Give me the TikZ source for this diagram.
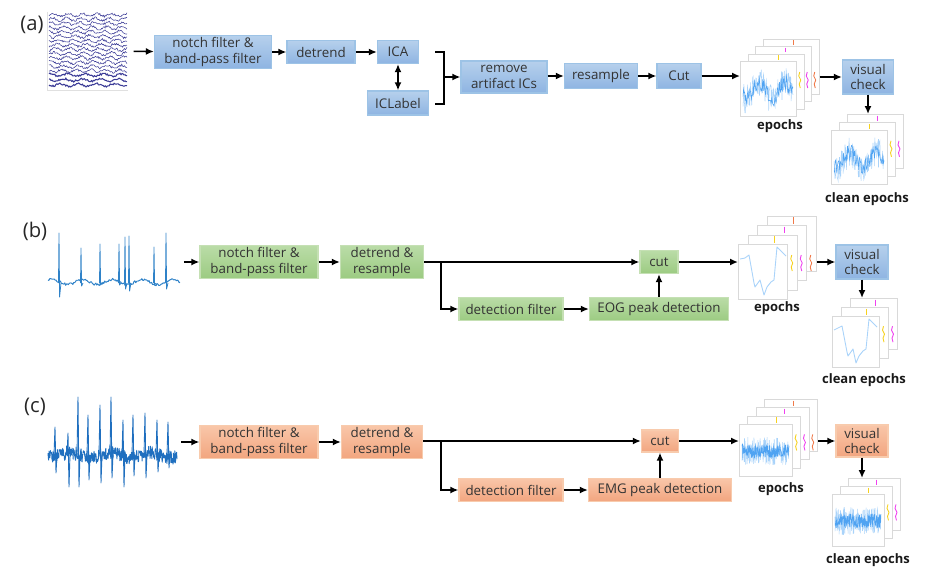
\documentclass[tikz,border=0pt]{standalone}
\usepackage{fontspec}
\setmainfont{Open Sans}
\usetikzlibrary{arrows.meta,positioning}

\definecolor{blueTop}{HTML}{B6D0EC}
\definecolor{blueBot}{HTML}{8EB4E2}
\definecolor{blueEdge}{HTML}{9DC3E6}
\definecolor{greenTop}{HTML}{BADCA7}
\definecolor{greenBot}{HTML}{9CCB82}
\definecolor{greenEdge}{HTML}{C5E0B4}
\definecolor{orangeTop}{HTML}{F9C6A9}
\definecolor{orangeBot}{HTML}{F2A57F}
\definecolor{orangeEdge}{HTML}{F8CBAD}
\definecolor{eegNavy}{HTML}{3A3A96}
\definecolor{eogBlue}{HTML}{2F82C8}
\definecolor{emgBlue}{HTML}{1F6FBF}
\definecolor{epBlue}{HTML}{4FA3F2}
\definecolor{epLight}{HTML}{A9D3FA}
\definecolor{bitYellow}{HTML}{F7D21E}
\definecolor{bitPink}{HTML}{F040F0}
\definecolor{bitOrange}{HTML}{F07A4A}

% stack of epoch frames: name, x, y (front frame top left), width, height, offset, back frames
\newcommand{\epochstack}[7]{%
  \foreach \k in {#7} {%
    \node[frame, anchor=north west, minimum width=#4*0.02cm, minimum height=#5*0.02cm]
      (#1-\k) at ({#2+#6*\k}, {#3-#6*\k}) {};
    \draw[bit\k] ({#2+#4+#6*\k-#6/2}, {#3+#5*0.2}) -- ++(-1,4) -- ++(2,4) -- ++(-1.5,4) -- ++(1,4);
    \draw[bit\k] ({#2+#4*0.55+#6*\k}, {#3-#6*\k+1.5}) -- ++(0,{#6-3});
  }
  \node[frame, anchor=north west, minimum width=#4*0.02cm, minimum height=#5*0.02cm] (#1) at (#2,#3) {};
}

\begin{document}
\begin{tikzpicture}[x=0.02cm, y=-0.02cm,
    box/.style={draw, line width=0.7pt, align=center, inner sep=1pt, text=black!80, font=\fontsize{7.6}{8.8}\selectfont},
    bluebox/.style={box, draw=blueEdge, top color=blueTop, bottom color=blueBot},
    greenbox/.style={box, draw=greenEdge, top color=greenTop, bottom color=greenBot},
    orangebox/.style={box, draw=orangeEdge, top color=orangeTop, bottom color=orangeBot},
    link/.style={-{Latex[length=1.6mm, width=1.4mm]}, line width=0.9pt},
    frame/.style={draw=black!15, fill=white, line width=0.6pt, inner sep=0pt},
    sigbox/.style={inner sep=0pt},
    lbl/.style={font=\bfseries\fontsize{7.4}{8.6}\selectfont, text=black!90},
    tag/.style={font=\fontsize{11.5}{13}\selectfont, text=black!85},
    bit1/.style={draw=bitYellow, line width=0.5pt},
    bit2/.style={draw=bitPink, line width=0.5pt},
    bit3/.style={draw=bitOrange, line width=0.5pt},
    eegline/.style={eegNavy, line width=0.3pt},
    rawsig/.style={line width=0.55pt, line join=round},
    epsig/.style={epBlue, line width=0.3pt}
]
\useasboundingbox (0,0) rectangle (944,575);
\pgfmathsetseed{11}

% (a) EEG
\node[tag] (tagA) at (32,25) {(a)};
\node[sigbox, minimum width=1.6cm, minimum height=1.56cm] (eeg) at (88,51) {};
\draw[black!12, line width=0.6pt] (eeg.north west) |- (eeg.south east);
\foreach \i in {0,...,13}
  \draw[eegline] plot[domain=49:127, samples=90] (\x, {15+4.3*\i + 1.4*sin(\x*25+\i*40) + 1.1*rand});
\foreach \i in {0,1,2}
  \draw[eegline, line width=0.6pt] plot[domain=49:127, samples=80] (\x, {75+5*\i + 1.2*sin(\x*20+\i*70) + 0.9*rand});

\node[bluebox, minimum width=2.34cm, minimum height=0.66cm] (notchA) at (213,52) {notch filter \&\\band-pass filter};
\node[bluebox, minimum width=1.36cm, minimum height=0.46cm] (detrendA) at (321,52) {detrend};
\node[bluebox, minimum width=0.82cm, minimum height=0.46cm] (icaA) at (398,52) {ICA};
\node[bluebox, minimum width=1.22cm, minimum height=0.48cm] (iclabelA) at (398,103) {ICLabel};
\node[bluebox, minimum width=1.72cm, minimum height=0.64cm] (removeA) at (504,77) {remove\\artifact ICs};
\node[bluebox, minimum width=1.46cm, minimum height=0.5cm] (resampleA) at (601,76) {resample};
\node[bluebox, minimum width=0.88cm, minimum height=0.5cm] (cutA) at (679,76) {Cut};
\node[bluebox, minimum width=1.02cm, minimum height=0.68cm] (visualA) at (868,77) {visual\\check};
\coordinate (brTop) at (435,52);
\coordinate (brMid) at (444,77);
\coordinate (brBot) at (435,104);

\epochstack{epA}{740}{61}{56}{55}{7.5}{3,2,1}
\begin{scope}[shift={(epA.north west)}]
  \draw[epLight, line width=0.3pt] plot[domain=3:53, samples=110] (\x, {30 + 8*sin(\x*14) + 15*rand});
  \draw[epsig] plot[domain=3:53, samples=90] (\x, {30 + 8*sin(\x*14) + 8*rand});
\end{scope}
\epochstack{clA}{831}{130}{56}{54}{8}{2,1}
\begin{scope}[shift={(clA.north west)}]
  \draw[epLight, line width=0.3pt] plot[domain=3:53, samples=110] (\x, {30 + 8*sin(\x*14) + 15*rand});
  \draw[epsig] plot[domain=3:53, samples=90] (\x, {30 + 8*sin(\x*14) + 8*rand});
\end{scope}
\node[lbl] (epAlbl) at (780,126) {epochs};
\node[lbl] (clAlbl) at (867,199) {clean epochs};

\draw[link, shorten <=3pt] (eeg) -- (notchA);
\draw[link] (notchA) -- (detrendA);
\draw[link] (detrendA) -- (icaA);
\draw[{Latex[length=1.6mm, width=1.4mm]}-{Latex[length=1.6mm, width=1.4mm]}, line width=0.9pt] (icaA) -- (iclabelA);
\draw[line width=0.9pt] (brTop) -| (brMid) |- (brBot);
\draw[link] (brMid) -- (removeA.west |- brMid);
\draw[link] (removeA.east |- resampleA) -- (resampleA);
\draw[link] (resampleA) -- (cutA);
\draw[link] (cutA.east) -- (cutA.east -| epA.west);
\draw[link] (visualA.west -| epA-3.east) -- (visualA.west);
\draw[link] (visualA.south) -- (visualA.south |- clA-2.north);

% (b) EOG
\node[tag] (tagB) at (35,231) {(b)};
\node[sigbox, minimum width=2.64cm, minimum height=1.32cm] (eog) at (114,265) {};
\draw[rawsig, eogBlue] plot[domain=48:180, samples=150] (\x, {282 + 2.5*sin(\x*12) + 1.3*rand});
\foreach \s/\t/\b in {59/233/297, 81/248/286, 100/244/285, 119/244/285, 125/237/289, 129/236/291, 154/247/285, 166/233/289}
  \draw[rawsig, eogBlue, line width=0.45pt] (\s-0.5,283) -- (\s,\t) -- (\s+0.6,\b) -- (\s+2,283);

\node[greenbox, minimum width=2.36cm, minimum height=0.64cm] (notchB) at (259,262) {notch filter \&\\band-pass filter};
\node[greenbox, minimum width=1.66cm, minimum height=0.64cm] (detrendB) at (382,262) {detrend \&\\resample};
\node[greenbox, minimum width=0.76cm, minimum height=0.46cm] (cutB) at (659,262) {cut};
\node[greenbox, minimum width=2.08cm, minimum height=0.46cm] (detfiltB) at (511,309) {detection filter};
\node[greenbox, minimum width=2.78cm, minimum height=0.46cm] (peakB) at (659,309) {EOG peak detection};
\node[bluebox, minimum width=1.04cm, minimum height=0.68cm] (visualB) at (862,262) {visual\\check};
\coordinate (splitB) at (441,262);

\epochstack{epB}{738}{244}{49}{55}{9.5}{3,2,1}
\begin{scope}[shift={(epB.north west)}]
  \draw[epLight, line width=0.5pt, line join=round] (2,15) -- (7,14) -- (11,11) -- (16,39) -- (17,43) -- (22,36) -- (26,51) -- (29,43) -- (33,38) -- (36,36) -- (39,3) -- (48,12);
\end{scope}
\epochstack{clB}{832}{316}{47}{51}{9}{2,1}
\begin{scope}[shift={(clB.north west)}]
  \draw[epLight, line width=0.5pt, line join=round] (2,14) -- (6,12) -- (10,10) -- (15,36) -- (16,40) -- (21,33) -- (24,47) -- (27,40) -- (31,35) -- (34,33) -- (37,3) -- (45,11);
\end{scope}
\node[lbl] (epBlbl) at (777,308) {epochs};
\node[lbl] (clBlbl) at (864,380) {clean epochs};

\draw[link, shorten <=2pt] (eog.east |- notchB) -- (notchB);
\draw[link] (notchB) -- (detrendB);
\draw[link] (detrendB) -- (cutB);
\draw[link] (splitB) |- (detfiltB);
\draw[link] (detfiltB) -- (peakB);
\draw[link] (peakB) -- (cutB);
\draw[link] (cutB.east) -- (cutB.east -| epB.west);
\draw[link] (visualB.west -| epB-3.east) -- (visualB.west);
\draw[link] (visualB.south) -- (visualB.south |- clB-2.north);

% (c) EMG
\node[tag] (tagC) at (35,407) {(c)};
\node[sigbox, minimum width=2.58cm, minimum height=1.8cm] (emg) at (113,442) {};
\draw[rawsig, emgBlue, line width=0.5pt] plot[domain=48:177, samples=360] (\x, {455 + 2.5*sin(\x*9) + 7*rand});
\foreach \s/\t/\b in {55/427/473, 68/433/487, 78/397/487, 88/415/480, 100/405/483, 111/397/478, 123/420/487, 133/415/476, 145/413/478, 157/420/472, 168/422/468}
  \draw[rawsig, emgBlue, line width=0.5pt] (\s-1,455) -- (\s,\t) -- (\s+1,\b) -- (\s+2,455);

\node[orangebox, minimum width=2.36cm, minimum height=0.66cm] (notchC) at (259,442) {notch filter \&\\band-pass filter};
\node[orangebox, minimum width=1.62cm, minimum height=0.66cm] (detrendC) at (382,442) {detrend \&\\resample};
\node[orangebox, minimum width=0.74cm, minimum height=0.44cm] (cutC) at (660,441) {cut};
\node[orangebox, minimum width=2.08cm, minimum height=0.46cm] (detfiltC) at (511,490) {detection filter};
\node[orangebox, minimum width=2.86cm, minimum height=0.46cm] (peakC) at (660,490) {EMG peak detection};
\node[orangebox, minimum width=1.04cm, minimum height=0.64cm] (visualC) at (862,441) {visual\\check};
\coordinate (splitC) at (441,441);

\epochstack{epC}{739}{424}{53}{52}{8.3}{3,2,1}
\begin{scope}[shift={(epC.north west)}]
  \draw[epLight, line width=0.3pt] plot[domain=3:50, samples=170] (\x, {27 + 14*rand});
  \draw[epsig] plot[domain=3:50, samples=170] (\x, {27 + 7*rand});
\end{scope}
\epochstack{clC}{832}{494}{52}{52}{8}{2,1}
\begin{scope}[shift={(clC.north west)}]
  \draw[epLight, line width=0.3pt] plot[domain=3:49, samples=170] (\x, {27 + 14*rand});
  \draw[epsig] plot[domain=3:49, samples=170] (\x, {27 + 7*rand});
\end{scope}
\node[lbl] (epClbl) at (781,489) {epochs};
\node[lbl] (clClbl) at (868,560) {clean epochs};

\draw[link, shorten <=2pt] (emg.east |- notchC) -- (notchC);
\draw[link] (notchC) -- (detrendC);
\draw[link] (detrendC.east |- cutC) -- (cutC);
\draw[link] (splitC) |- (detfiltC);
\draw[link] (detfiltC) -- (peakC);
\draw[link] (peakC) -- (cutC);
\draw[link] (cutC.east) -- (cutC.east -| epC.west);
\draw[link] (visualC.west -| epC-3.east) -- (visualC.west);
\draw[link] (visualC.south) -- (visualC.south |- clC-2.north);
\end{tikzpicture}
\end{document}
